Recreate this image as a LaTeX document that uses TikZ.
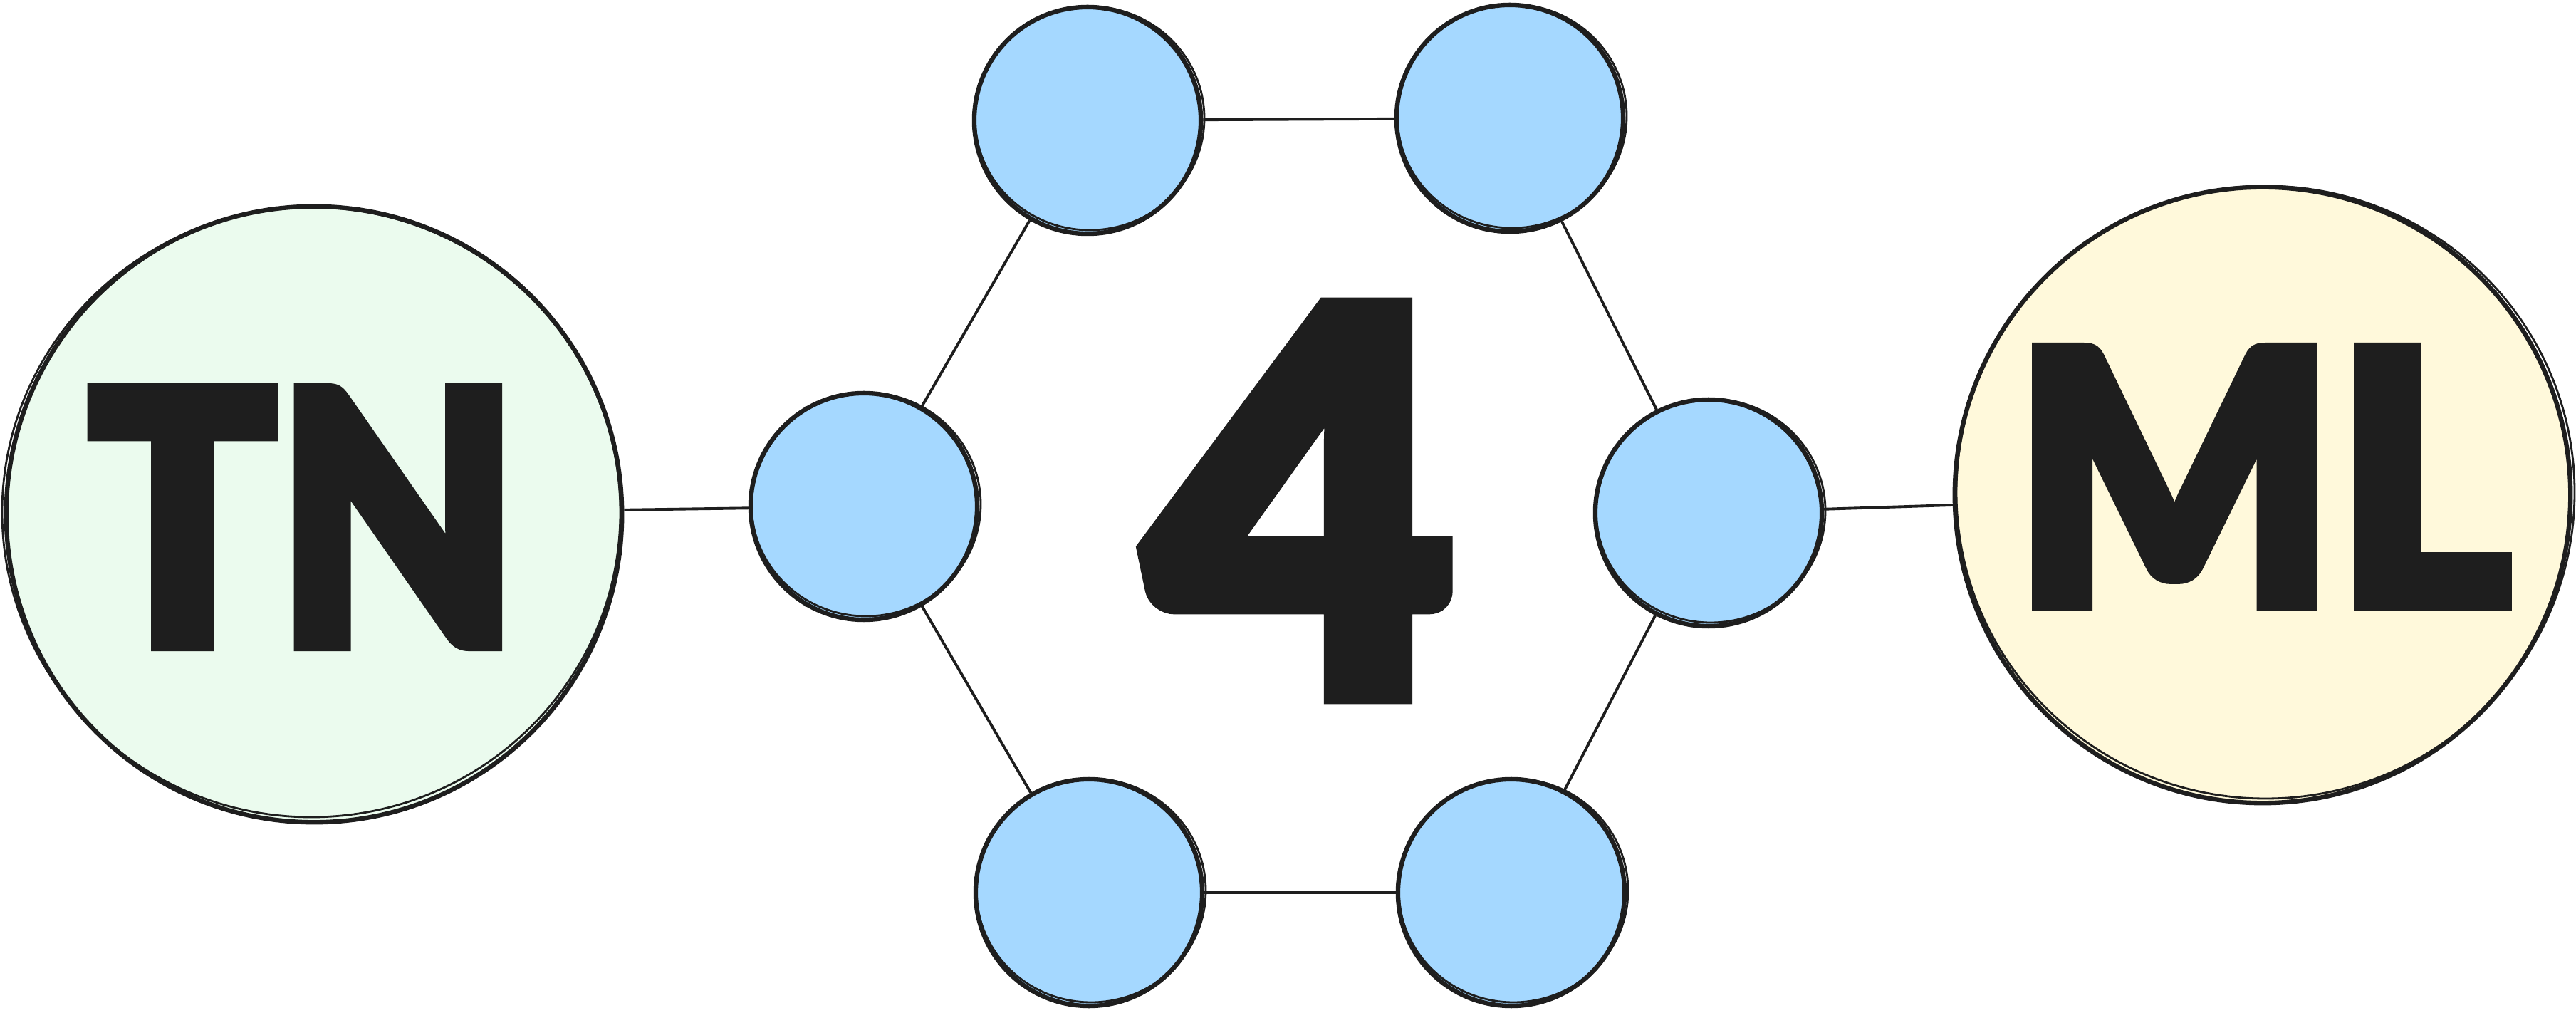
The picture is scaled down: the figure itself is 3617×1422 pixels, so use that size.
\documentclass[tikz,border=0pt]{standalone}
\usepackage{fontspec}
\IfFontExistsTF{Lato Black}
  {\newfontfamily\heavyfont{Lato Black}[FakeStretch=0.88, FakeBold=3]
   \newfontfamily\wideheavyfont{Lato Black}[FakeStretch=0.95, FakeBold=3]
   \newfontfamily\digitfont{Lato Black}[FakeBold=3]}
  {\newfontfamily\heavyfont{Fira Sans Bold}
   \newfontfamily\wideheavyfont{Fira Sans Bold}
   \newfontfamily\digitfont{Fira Sans Bold}}
\usetikzlibrary{positioning}
\definecolor{ink}{HTML}{1E1E1E}
\definecolor{tnfill}{HTML}{EBFBEE}
\definecolor{mlfill}{HTML}{FFF9DB}
\definecolor{nodefill}{HTML}{A5D8FF}
\tikzset{
  big/.style={circle, draw=ink, line width=1.8pt, minimum size=8.64cm, inner sep=0pt},
  tensor/.style={circle, draw=ink, fill=nodefill, line width=1.8pt, minimum size=3.18cm, inner sep=0pt},
  sketch/.style={ink, line width=0.8pt},
  bond/.style={ink, line width=1.1pt},
  word/.style={text=ink, inner sep=0pt, font=\heavyfont\fontsize{141}{141}\selectfont}
}

\begin{document}
\begin{tikzpicture}[x=0.01cm, y=-0.01cm]
  \useasboundingbox (0,0) rectangle (3617,1422);
  % Circulos grandes
  \node[big, fill=tnfill] (tn) at (441,722) {};
  \node[big, fill=mlfill] (ml) at (3177,695) {};
  \draw[sketch] (tn.center) ++(-4,-3) ellipse (434 and 428);
  \draw[sketch] (ml.center) ++(4,-4) ellipse (434 and 430);
  % Red de tensores
  \foreach \n/\x/\y in {a/1213/711, b/1527/169, c/2120/166, d/2399/720, e/2122/1253, f/1529/1253}{
    \node[tensor] (\n) at (\x,\y) {};
    \draw[sketch] (\n.center) ++(3,-3) ellipse (161 and 157);
  }
  % Enlaces
  \foreach \p/\q in {tn/a, a/b, b/c, c/d, d/e, e/f, f/a, d/ml}
    \draw[bond] (\p) -- (\q);
  % Textos
  \node[word] (tntext) at (426,726) {TN};
  \node[word, font=\wideheavyfont\fontsize{141}{141}\selectfont] (mltext) at (3177,669) {ML};
  \node[word, font=\digitfont\fontsize{214}{214}\selectfont] (four) at (1827,703) {4};
\end{tikzpicture}
\end{document}
